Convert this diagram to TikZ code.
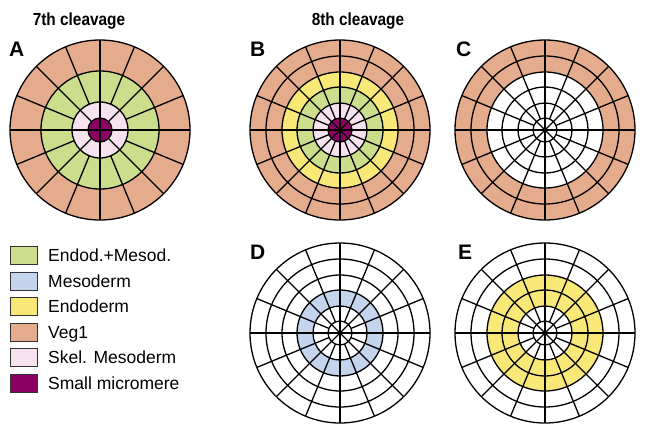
\documentclass[tikz,border=0pt]{standalone}
\usepackage{fontspec}
\setmainfont{Liberation Sans}
\newfontfamily\condfont{Liberation Sans}[FakeStretch=0.88]
\usepackage{tikz}
\usetikzlibrary{calc,positioning}
\definecolor{vegone}{HTML}{E4AC8C}
\definecolor{endomeso}{HTML}{CCDE8C}
\definecolor{endo}{HTML}{F8E878}
\definecolor{meso}{HTML}{C4D4EC}
\definecolor{skelmeso}{HTML}{F6E2EE}
\definecolor{smallmicro}{HTML}{8C0064}
\tikzset{
  emb/line/.style={line width=1.3pt, black},
  emb/title/.style={font=\condfont\fontsize{17.5}{20}\selectfont\bfseries, anchor=base, inner sep=0pt},
  emb/panel/.style={font=\fontsize{21}{24}\selectfont\bfseries, anchor=base west, inner sep=0pt},
  emb/key/.style={draw=black!80, line width=0.9pt, minimum width=27pt, minimum height=18pt, inner sep=0pt, anchor=north west},
  emb/keytext/.style={font=\fontsize{17.5}{20}\selectfont, anchor=base west, inner sep=0pt}
}
% rings and spokes of an 8th cleavage embryo
\newcommand{\eightgrid}[1]{%
  \foreach \r in {12,27,43,58,74,90} \draw[emb/line] (#1) circle (\r);
  \foreach \a in {0,45,...,315} \draw[emb/line] (#1) -- ($(#1)+(\a:90)$);
  \foreach \a in {22.5,67.5,...,337.5} \draw[emb/line] ($(#1)+(\a:12)$) -- ($(#1)+(\a:90)$);
}

\begin{document}
\begin{tikzpicture}[x=1pt,y=-1pt]
  \useasboundingbox (0,0) rectangle (645,432);
  \coordinate (A) at (100,130);
  \coordinate (B) at (340,130);
  \coordinate (C) at (545,130);
  \coordinate (D) at (340,333);
  \coordinate (E) at (545,333);
  % titles and panel letters
  \node[emb/title] (t7) at (79,25) {7th cleavage};
  \node[emb/title] (t8) at (358,25) {8th cleavage};
  \node[emb/panel] (lA) at (9,56) {A};
  \node[emb/panel] (lB) at (250,56) {B};
  \node[emb/panel] (lC) at (456,56) {C};
  \node[emb/panel] (lD) at (250,259) {D};
  \node[emb/panel] (lE) at (458,259) {E};
  % A: 7th cleavage
  \fill[vegone] (A) circle (90);
  \fill[endomeso] (A) circle (59);
  \fill[skelmeso] (A) circle (28);
  \fill[smallmicro] (A) circle (12);
  \foreach \r in {12,28,59,90} \draw[emb/line] (A) circle (\r);
  \foreach \a in {0,90,180,270} \draw[emb/line] (A) -- ($(A)+(\a:90)$);
  \foreach \a in {45,135,225,315} \draw[emb/line] ($(A)+(\a:12)$) -- ($(A)+(\a:90)$);
  \foreach \a in {22.5,67.5,...,337.5} \draw[emb/line] ($(A)+(\a:28)$) -- ($(A)+(\a:90)$);
  % B: all fates
  \fill[vegone] (B) circle (90);
  \fill[endo] (B) circle (58);
  \fill[endomeso] (B) circle (43);
  \fill[skelmeso] (B) circle (27);
  \fill[smallmicro] (B) circle (12);
  \eightgrid{B}
  % C: veg1
  \fill[vegone] (C) circle (90);
  \fill[white] (C) circle (58);
  \eightgrid{C}
  % D: mesoderm
  \fill[meso] (D) circle (43);
  \fill[white] (D) circle (27);
  \eightgrid{D}
  % E: endoderm
  \fill[endo] (E) circle (58);
  \fill[white] (E) circle (27);
  \eightgrid{E}
  % legend
  \foreach \c/\t [count=\i from 0] in {endomeso/Endod.+Mesod., meso/Mesoderm, endo/Endoderm, vegone/Veg1, skelmeso/Skel. Mesoderm, smallmicro/Small micromere} {
    \node[emb/key, fill=\c] (key\i) at (10,246+25.6*\i) {};
    \node[emb/keytext] (txt\i) at (48,261.5+25.6*\i) {\t};
  }
\end{tikzpicture}
\end{document}
